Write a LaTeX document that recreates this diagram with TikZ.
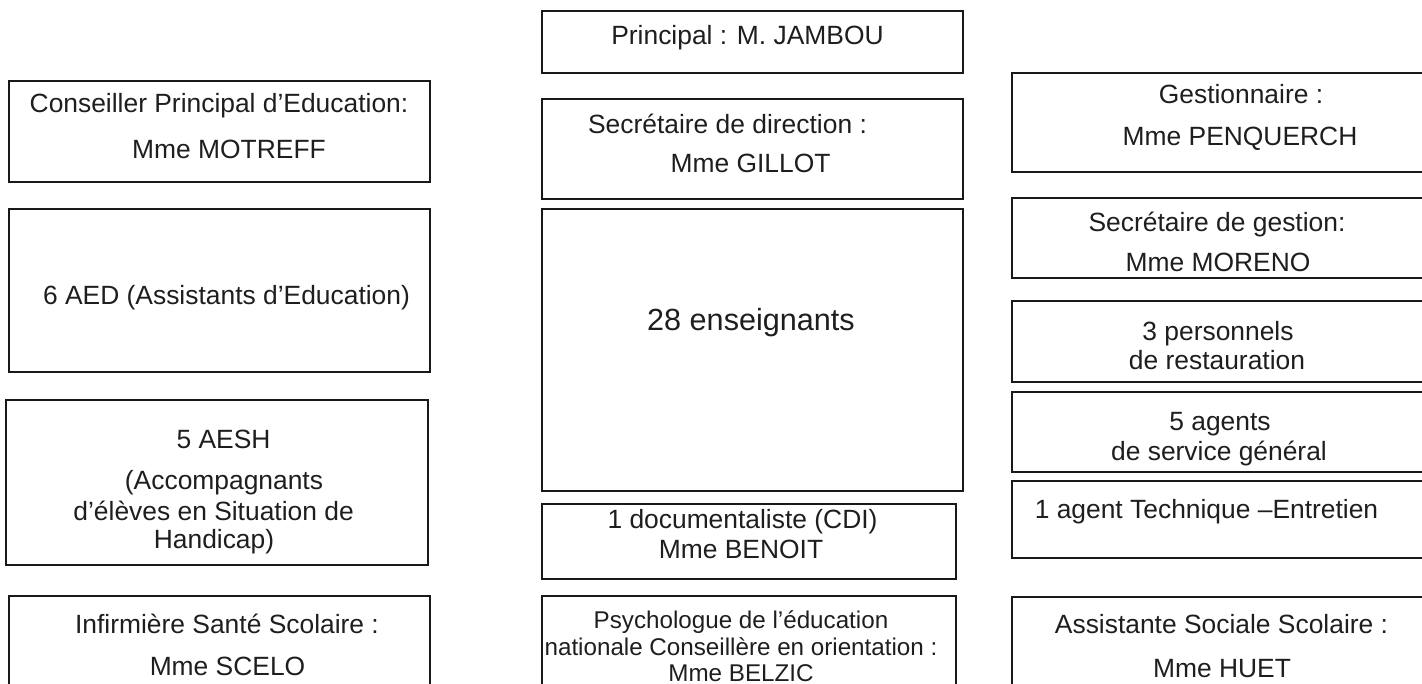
\documentclass[tikz,border=0pt]{standalone}
\usepackage{fontspec}
\setmainfont{Liberation Sans}
\definecolor{txt}{RGB}{30,30,30}
\definecolor{edge}{RGB}{25,25,25}
\tikzset{
  box/.style={draw=edge, line width=0.85pt, rectangle, inner sep=0pt, outer sep=0pt},
  lbl/.style={anchor=base, inner sep=0pt, outer sep=0pt, text=txt, font=\fontsize{13.2pt}{16pt}\selectfont},
  biglbl/.style={lbl, font=\fontsize{15.3pt}{18pt}\selectfont},
  smalllbl/.style={lbl, font=\fontsize{12.1pt}{14pt}\selectfont}
}
\begin{document}
\begin{tikzpicture}[x=0.5pt, y=-0.5pt]
\useasboundingbox (0,0) rectangle (1422,684);
\clip (0,0) rectangle (1422,684);
% left column
\node[box, minimum width=210.5pt, minimum height=50.5pt] (cpe) at (219.5,131.5) {};
\node[box, minimum width=210.5pt, minimum height=81.5pt] (aed) at (219.5,290.5) {};
\node[box, minimum width=211pt, minimum height=82.5pt] (aesh) at (217,482.5) {};
\node[box, minimum width=210.5pt, minimum height=52pt] (inf) at (219.5,648) {};
% middle column
\node[box, minimum width=210.5pt, minimum height=31pt] (princ) at (752.5,42) {};
\node[box, minimum width=210.5pt, minimum height=50pt] (secdir) at (752.5,149) {};
\node[box, minimum width=210.5pt, minimum height=141pt] (ens) at (752.5,350) {};
\node[box, minimum width=207pt, minimum height=37.5pt] (doc) at (749,541.5) {};
\node[box, minimum width=207pt, minimum height=52pt] (psy) at (749,648) {};
% right column
\node[box, minimum width=214pt, minimum height=49.5pt] (gest) at (1226,122.5) {};
\node[box, minimum width=214pt, minimum height=40pt] (secgest) at (1226,238) {};
\node[box, minimum width=214pt, minimum height=40.5pt] (resto) at (1226,341.5) {};
\node[box, minimum width=214pt, minimum height=40pt] (agents) at (1226,432) {};
\node[box, minimum width=214pt, minimum height=38.5pt] (tech) at (1226,519.5) {};
\node[box, minimum width=214pt, minimum height=51.5pt] (soc) at (1226,648.5) {};
% labels left
\node[lbl] (tcpe1) at (219,112.7) {Conseiller Principal d’Education:};
\node[lbl] (tcpe2) at (229,158.3) {Mme MOTREFF};
\node[lbl] (taed) at (226.5,304) {6 AED (Assistants d’Education)};
\node[lbl] (taesh1) at (223.5,448.3) {5 AESH};
\node[lbl] (taesh2) at (224,489) {(Accompagnants};
\node[lbl] (taesh3) at (213.6,520) {d’élèves en Situation de};
\node[lbl] (taesh4) at (214,548) {Handicap)};
\node[lbl] (tinf1) at (227,633) {Infirmière Santé Scolaire :};
\node[lbl] (tinf2) at (227.5,675) {Mme SCELO};
% labels middle
\node[lbl] (tprinc) at (747.5,45) {Principal : M. JAMBOU};
\node[lbl] (tsec1) at (727.5,133.3) {Secrétaire de direction :};
\node[lbl] (tsec2) at (750.5,172.7) {Mme GILLOT};
\node[biglbl] (tens) at (751,330) {28 enseignants};
\node[lbl] (tdoc1) at (742.5,528.3) {1 documentaliste (CDI)};
\node[lbl] (tdoc2) at (741,558.3) {Mme BENOIT};
\node[smalllbl] (tpsy1) at (741,628) {Psychologue de l’éducation};
\node[smalllbl] (tpsy2) at (741,655) {nationale Conseillère en orientation :};
\node[smalllbl] (tpsy3) at (741,681) {Mme BELZIC};
% labels right
\node[lbl] (tgest1) at (1241,104) {Gestionnaire :};
\node[lbl] (tgest2) at (1240,145.7) {Mme PENQUERCH};
\node[lbl] (tsg1) at (1217,231) {Secrétaire de gestion:};
\node[lbl] (tsg2) at (1218,271.7) {Mme MORENO};
\node[lbl] (tres1) at (1218,340) {3 personnels};
\node[lbl] (tres2) at (1217,369) {de restauration};
\node[lbl] (tag1) at (1220,430) {5 agents};
\node[lbl] (tag2) at (1219,460) {de service général};
\node[lbl] (ttech) at (1206.5,518.3) {1 agent Technique –Entretien};
\node[lbl] (tsoc1) at (1221.5,633) {Assistante Sociale Scolaire :};
\node[lbl] (tsoc2) at (1222,677) {Mme HUET};
\end{tikzpicture}
\end{document}
